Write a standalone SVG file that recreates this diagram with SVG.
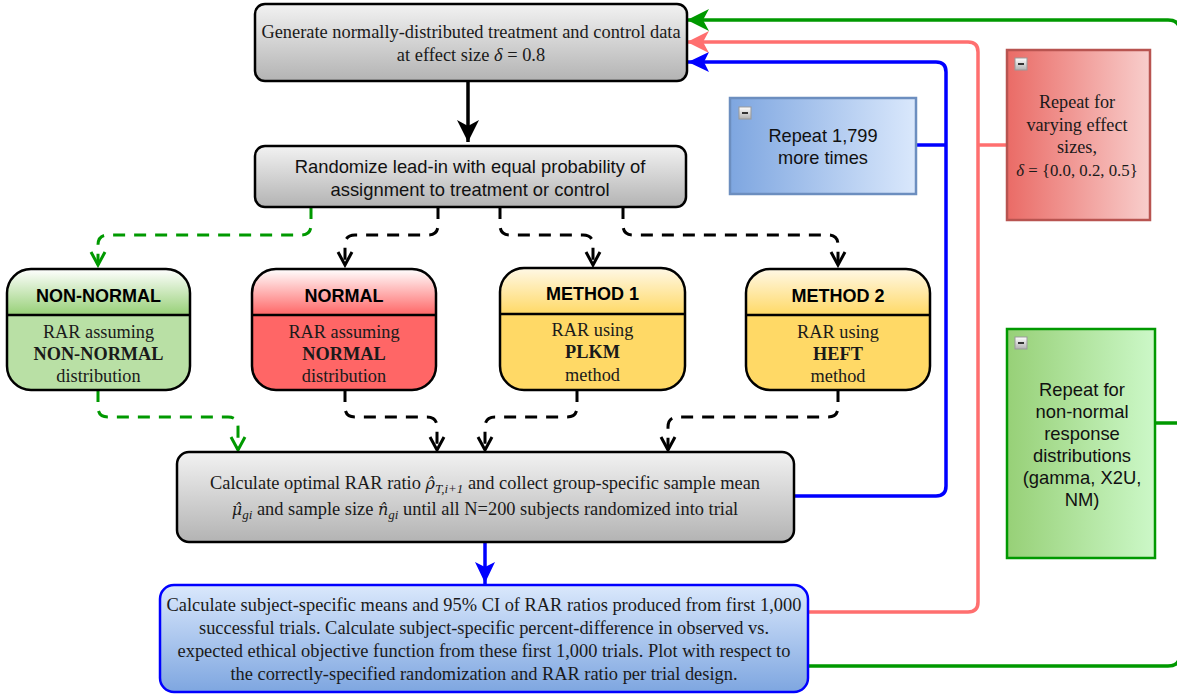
<svg xmlns="http://www.w3.org/2000/svg" width="1177" height="694" viewBox="0 0 1177 694">
<defs>
<linearGradient id="gGray" x1="0" y1="0" x2="0" y2="1"><stop offset="0" stop-color="#f2f2f2"/><stop offset="1" stop-color="#b3b3b3"/></linearGradient>
<linearGradient id="gBlueV" x1="0" y1="0" x2="0" y2="1"><stop offset="0" stop-color="#dae8fc"/><stop offset="1" stop-color="#7ea6e0"/></linearGradient>
<linearGradient id="gBlueH" x1="0" y1="0" x2="1" y2="0"><stop offset="0" stop-color="#7ea6e0"/><stop offset="1" stop-color="#dae8fc"/></linearGradient>
<linearGradient id="gRedH" x1="0" y1="0" x2="1" y2="0"><stop offset="0" stop-color="#ea6b66"/><stop offset="1" stop-color="#f8cecc"/></linearGradient>
<linearGradient id="gGreenH" x1="0" y1="0" x2="1" y2="0"><stop offset="0" stop-color="#97d077"/><stop offset="1" stop-color="#ccf8c8"/></linearGradient>
<linearGradient id="hGreen" x1="0" y1="0" x2="0" y2="1"><stop offset="0" stop-color="#ffffff"/><stop offset="1" stop-color="#97d077"/></linearGradient>
<linearGradient id="hRed" x1="0" y1="0" x2="0" y2="1"><stop offset="0" stop-color="#ffffff"/><stop offset="1" stop-color="#ff6666"/></linearGradient>
<linearGradient id="hYellow" x1="0" y1="0" x2="0" y2="1"><stop offset="0" stop-color="#fff8e6"/><stop offset="1" stop-color="#ffd966"/></linearGradient>
<linearGradient id="gIcon" x1="0" y1="0" x2="0" y2="1"><stop offset="0" stop-color="#ffffff"/><stop offset="1" stop-color="#b0b0b0"/></linearGradient>
<marker id="aBlack" viewBox="-1 -12 24 24" refX="22" refY="0" markerWidth="24" markerHeight="24" markerUnits="userSpaceOnUse" orient="auto"><path d="M0,-11 L22,0 L0,11 L6,0 Z" fill="#000"/></marker>
<marker id="aBlue" viewBox="-1 -12 24 24" refX="22" refY="0" markerWidth="24" markerHeight="24" markerUnits="userSpaceOnUse" orient="auto"><path d="M0,-10 L21,0 L0,10 L5,0 Z" fill="#0000ff"/></marker>
<marker id="aGreen" viewBox="-1 -12 24 24" refX="22" refY="0" markerWidth="24" markerHeight="24" markerUnits="userSpaceOnUse" orient="auto"><path d="M0,-11 L22,0 L0,11 L6,0 Z" fill="#009900"/></marker>
<marker id="aRed" viewBox="-1 -12 24 24" refX="22" refY="0" markerWidth="24" markerHeight="24" markerUnits="userSpaceOnUse" orient="auto"><path d="M0,-11 L22,0 L0,11 L6,0 Z" fill="#ff6f6f"/></marker>
<marker id="oBlack" viewBox="-2 -9 18 18" refX="13" refY="0" markerWidth="18" markerHeight="18" markerUnits="userSpaceOnUse" orient="auto"><path d="M0,-7 L13,0 L0,7" fill="none" stroke="#000" stroke-width="3"/></marker>
<marker id="oGreen" viewBox="-2 -9 18 18" refX="13" refY="0" markerWidth="18" markerHeight="18" markerUnits="userSpaceOnUse" orient="auto"><path d="M0,-7 L13,0 L0,7" fill="none" stroke="#009900" stroke-width="3"/></marker>
</defs>
<style>
.box{stroke:#000;stroke-width:2.5}
.serif{font-family:"Liberation Serif","Times New Roman",serif;fill:#1a1a1a}
.sans{font-family:"Liberation Sans",Arial,sans-serif;fill:#111}
.hdr{font-family:"Liberation Sans",Arial,sans-serif;font-weight:bold;font-size:18px;fill:#000}
.body{font-family:"Liberation Serif","Times New Roman",serif;font-size:18.3px;fill:#1a1a1a}
.math{font-family:"DejaVu Serif",serif;font-style:italic;font-size:16px}
.sub{font-style:italic;font-size:13px}
.dash{fill:none;stroke-width:3;stroke-dasharray:12 9}
.loop{fill:none;stroke-width:3.5}
.icon{fill:url(#gIcon);stroke:#999;stroke-width:1}
</style>

<g id="connectors">
  <path d="M468,81 L468,142" fill="none" stroke="#000" stroke-width="3.5" marker-end="url(#aBlack)"/>
  <path class="dash" stroke="#009900" d="M311,207 L311,225 Q311,235 301,235 L108,235 Q98,235 98,245 L98,265" marker-end="url(#oGreen)"/>
  <path class="dash" stroke="#000" d="M438,207 L438,225 Q438,235 428,235 L355,235 Q345,235 345,245 L345,265" marker-end="url(#oBlack)"/>
  <path class="dash" stroke="#000" d="M500,207 L500,225 Q500,235 510,235 L583,235 Q593,235 593,245 L593,265" marker-end="url(#oBlack)"/>
  <path class="dash" stroke="#000" d="M623,207 L623,225 Q623,235 633,235 L828,235 Q838,235 838,245 L838,265" marker-end="url(#oBlack)"/>
  <path class="dash" stroke="#009900" d="M98,390 L98,407 Q98,417 108,417 L228,417 Q238,417 238,427 L238,450" marker-end="url(#oGreen)"/>
  <path class="dash" stroke="#000" d="M345,390 L345,407 Q345,417 355,417 L427,417 Q437,417 437,427 L437,450" marker-end="url(#oBlack)"/>
  <path class="dash" stroke="#000" d="M577,390 L577,407 Q577,417 567,417 L495,417 Q485,417 485,427 L485,450" marker-end="url(#oBlack)"/>
  <path class="dash" stroke="#000" d="M838,390 L838,407 Q838,417 828,417 L678,417 Q668,417 668,427 L668,450" marker-end="url(#oBlack)"/>
  <path d="M485,543 L485,584" fill="none" stroke="#0000ff" stroke-width="3.5" marker-end="url(#aBlue)"/>
  <path class="loop" stroke="#0000ff" d="M794,496 L936,496 Q946,496 946,486 L946,72 Q946,62 936,62 L687,62" marker-end="url(#aBlue)"/>
  <path class="loop" stroke="#0000ff" d="M916,145 L946,145"/>
  <path class="loop" stroke="#ff6f6f" d="M808,612 L968,612 Q978,612 978,602 L978,52 Q978,42 968,42 L687,42" marker-end="url(#aRed)"/>
  <path class="loop" stroke="#ff6f6f" d="M978,145 L1007,145"/>
  <path class="loop" stroke="#009900" d="M808,666 L1168,666 Q1180,666 1180,654 L1180,32 Q1180,20 1168,20 L687,20" marker-end="url(#aGreen)"/>
  <path class="loop" stroke="#009900" d="M1155,423 L1180,423"/>
</g>

<g id="generate">
  <rect class="box" x="255" y="4" width="432" height="77" rx="10" fill="url(#gGray)"/>
  <text class="serif" font-size="18.4" text-anchor="middle" x="471" y="38">Generate normally-distributed treatment and control data</text>
  <text class="serif" font-size="18.4" text-anchor="middle" x="471" y="61">at effect size <tspan font-style="italic">δ</tspan> = 0.8</text>
</g>

<g id="randomize">
  <rect class="box" x="255" y="146" width="431" height="61" rx="10" fill="url(#gGray)"/>
  <text class="sans" font-size="18.4" text-anchor="middle" x="470" y="173">Randomize lead-in with equal probability of</text>
  <text class="sans" font-size="18.4" text-anchor="middle" x="470" y="196">assignment to treatment or control</text>
</g>

<g id="nonnormal">
  <rect x="7" y="269" width="183" height="121" rx="24" fill="#b9e0a5"/>
  <path d="M7,315 L7,293 A24,24 0 0 1 31,269 L166,269 A24,24 0 0 1 190,293 L190,315 Z" fill="url(#hGreen)"/>
  <line x1="7" y1="315" x2="190" y2="315" stroke="#000" stroke-width="2.5"/>
  <rect class="box" x="7" y="269" width="183" height="121" rx="24" fill="none"/>
  <text class="hdr" text-anchor="middle" x="98.5" y="302">NON-NORMAL</text>
  <text class="body" text-anchor="middle" x="98.5" y="338">RAR assuming</text>
  <text class="body" text-anchor="middle" x="98.5" y="360" font-weight="bold">NON-NORMAL</text>
  <text class="body" text-anchor="middle" x="98.5" y="382">distribution</text>
</g>

<g id="normal">
  <rect x="252" y="269" width="184" height="121" rx="24" fill="#ff6666"/>
  <path d="M252,315 L252,293 A24,24 0 0 1 276,269 L412,269 A24,24 0 0 1 436,293 L436,315 Z" fill="url(#hRed)"/>
  <line x1="252" y1="315" x2="436" y2="315" stroke="#000" stroke-width="2.5"/>
  <rect class="box" x="252" y="269" width="184" height="121" rx="24" fill="none"/>
  <text class="hdr" text-anchor="middle" x="344" y="302">NORMAL</text>
  <text class="body" text-anchor="middle" x="344" y="338">RAR assuming</text>
  <text class="body" text-anchor="middle" x="344" y="360" font-weight="bold">NORMAL</text>
  <text class="body" text-anchor="middle" x="344" y="382">distribution</text>
</g>

<g id="method1">
  <rect x="500" y="268" width="185" height="122" rx="24" fill="#ffd966"/>
  <path d="M500,314 L500,292 A24,24 0 0 1 524,268 L661,268 A24,24 0 0 1 685,292 L685,314 Z" fill="url(#hYellow)"/>
  <line x1="500" y1="314" x2="685" y2="314" stroke="#000" stroke-width="2.5"/>
  <rect class="box" x="500" y="268" width="185" height="122" rx="24" fill="none"/>
  <text class="hdr" text-anchor="middle" x="592.5" y="300">METHOD 1</text>
  <text class="body" text-anchor="middle" x="592.5" y="336">RAR using</text>
  <text class="body" text-anchor="middle" x="592.5" y="358" font-weight="bold">PLKM</text>
  <text class="body" text-anchor="middle" x="592.5" y="381">method</text>
</g>

<g id="method2">
  <rect x="746" y="269" width="184" height="121" rx="24" fill="#ffd966"/>
  <path d="M746,315 L746,293 A24,24 0 0 1 770,269 L906,269 A24,24 0 0 1 930,293 L930,315 Z" fill="url(#hYellow)"/>
  <line x1="746" y1="315" x2="930" y2="315" stroke="#000" stroke-width="2.5"/>
  <rect class="box" x="746" y="269" width="184" height="121" rx="24" fill="none"/>
  <text class="hdr" text-anchor="middle" x="838" y="302">METHOD 2</text>
  <text class="body" text-anchor="middle" x="838" y="338">RAR using</text>
  <text class="body" text-anchor="middle" x="838" y="360" font-weight="bold">HEFT</text>
  <text class="body" text-anchor="middle" x="838" y="382">method</text>
</g>

<g id="calculate">
  <rect class="box" x="177" y="452" width="617" height="90" rx="12" fill="url(#gGray)"/>
  <text class="serif" font-size="18.4" text-anchor="middle" x="485" y="489">Calculate optimal RAR ratio <tspan class="math">ρ̂</tspan><tspan class="sub" dy="4">T,i+1</tspan><tspan dy="-4">  and collect group-specific sample mean</tspan></text>
  <text class="serif" font-size="18.4" text-anchor="middle" x="485" y="515"><tspan class="math">μ̂</tspan><tspan class="sub" dy="4">gi</tspan><tspan dy="-4">  and sample size </tspan><tspan class="math">n̂</tspan><tspan class="sub" dy="4">gi</tspan><tspan dy="-4">  until all N=200 subjects randomized into trial</tspan></text>
</g>

<g id="results">
  <rect x="160" y="585" width="648" height="107" rx="14" fill="url(#gBlueV)" stroke="#0000ff" stroke-width="2.5"/>
  <text class="serif" font-size="18.4" text-anchor="middle" x="484" y="611">Calculate subject-specific means and 95% CI of RAR ratios produced from first 1,000</text>
  <text class="serif" font-size="18.4" text-anchor="middle" x="484" y="634">successful trials. Calculate subject-specific percent-difference in observed vs.</text>
  <text class="serif" font-size="18.4" text-anchor="middle" x="484" y="657">expected ethical objective function from these first 1,000 trials. Plot with respect to</text>
  <text class="serif" font-size="18.4" text-anchor="middle" x="484" y="680">the correctly-specified randomization and RAR ratio per trial design.</text>
</g>

<g id="repeat1799">
  <rect x="730" y="98" width="186" height="96" fill="url(#gBlueH)" stroke="#6c8ebf" stroke-width="2.5"/>
  <rect class="icon" x="739" y="107" width="12" height="12"/>
  <line x1="742" y1="113" x2="748" y2="113" stroke="#333" stroke-width="2"/>
  <text class="sans" font-size="18.2" text-anchor="middle" x="823" y="142">Repeat 1,799</text>
  <text class="sans" font-size="18.2" text-anchor="middle" x="823" y="164">more times</text>
</g>

<g id="repeateffect">
  <rect x="1007" y="50" width="143" height="170" fill="url(#gRedH)" stroke="#b85450" stroke-width="2.5"/>
  <rect class="icon" x="1015" y="58" width="12" height="12"/>
  <line x1="1018" y1="64" x2="1024" y2="64" stroke="#333" stroke-width="2"/>
  <text class="serif" font-size="18.2" text-anchor="middle" x="1077" y="108">Repeat for</text>
  <text class="serif" font-size="18.2" text-anchor="middle" x="1077" y="131">varying effect</text>
  <text class="serif" font-size="18.2" text-anchor="middle" x="1077" y="153">sizes,</text>
  <text class="serif" font-size="16.8" text-anchor="middle" x="1077" y="176"><tspan font-style="italic">δ</tspan> = {0.0, 0.2, 0.5}</text>
</g>

<g id="repeatnonnormal">
  <rect x="1007" y="329" width="148" height="229" fill="url(#gGreenH)" stroke="#009900" stroke-width="2.5"/>
  <rect class="icon" x="1015" y="337" width="12" height="12"/>
  <line x1="1018" y1="343" x2="1024" y2="343" stroke="#333" stroke-width="2"/>
  <text class="sans" font-size="18.4" text-anchor="middle" x="1082" y="396">Repeat for</text>
  <text class="sans" font-size="18.4" text-anchor="middle" x="1082" y="418">non-normal</text>
  <text class="sans" font-size="18.4" text-anchor="middle" x="1082" y="440">response</text>
  <text class="sans" font-size="18.4" text-anchor="middle" x="1082" y="462">distributions</text>
  <text class="sans" font-size="18.4" text-anchor="middle" x="1082" y="484">(gamma, X2U,</text>
  <text class="sans" font-size="18.4" text-anchor="middle" x="1082" y="506">NM)</text>
</g>
</svg>
